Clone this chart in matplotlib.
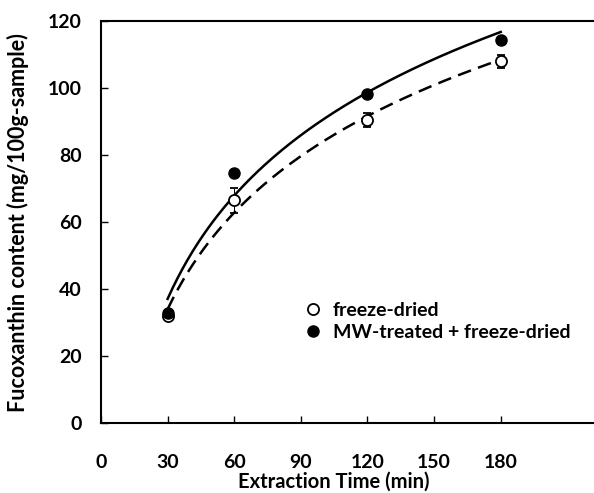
import matplotlib.pyplot as plt
import numpy as np

plt.rcParams['font.family'] = ['Lato', 'DejaVu Sans']
plt.rcParams['font.weight'] = 'bold'

time = np.array([30, 60, 120, 180])
freeze_dried = np.array([32.0, 66.5, 90.5, 108.0])
freeze_dried_err = np.array([1.0, 3.8, 2.0, 2.0])
mw_treated = np.array([33.0, 74.7, 98.3, 114.5])
mw_treated_err = np.array([1.0, 0.8, 0.8, 1.2])

fig = plt.figure(figsize=(5.94, 4.93), dpi=100)
ax = fig.add_axes([0.170, 0.142, 0.830, 0.815])

# log fits
xs = np.linspace(30, 180, 200)
k1, b1 = np.polyfit(np.log(time), mw_treated, 1)
k2, b2 = np.polyfit(np.log(time), freeze_dried, 1)
ax.plot(xs, k1 * np.log(xs) + b1, color='black', lw=1.8)
ax.plot(xs, k2 * np.log(xs) + b2, color='black', lw=1.8, ls=(0, (5.5, 3)))

ax.errorbar(time, freeze_dried, yerr=freeze_dried_err, fmt='o', ms=8, mfc='white',
            mec='black', mew=1.3, ecolor='black', elinewidth=0.7, capsize=3, capthick=0.7,
            label='freeze-dried', zorder=3)
ax.errorbar(time, mw_treated, yerr=mw_treated_err, fmt='o', ms=8, mfc='black',
            mec='black', ecolor='black', elinewidth=0.7, capsize=3, capthick=0.7,
            label='MW-treated + freeze-dried', zorder=3)

ax.set_xlim(0, 222)
ax.set_ylim(0, 120)
ax.set_xticks([0, 30, 60, 90, 120, 150, 180])
ax.set_yticks([0, 20, 40, 60, 80, 100, 120])
ax.tick_params(direction='in', length=5, width=1, labelsize=14)
ax.tick_params(axis='x', pad=22)
ax.tick_params(axis='y', pad=14)
ax.spines['right'].set_visible(False)
for s in ['left', 'bottom', 'top']:
    ax.spines[s].set_linewidth(1.5)

ax.set_xlabel('Extraction Time (min)', fontsize=14.5, fontweight='bold')
ax.xaxis.set_label_coords(0.472, -0.122)
ax.set_ylabel('Fucoxanthin content (mg/100g-sample)', fontsize=15.5, fontweight='bold')
ax.yaxis.set_label_coords(-0.145, 0.5)

handles, labels = ax.get_legend_handles_labels()
handles = [h[0] for h in handles]
ax.legend(handles, labels, loc='upper left', bbox_to_anchor=(0.371, 0.345), frameon=False,
          handletextpad=0.4, handlelength=1.2, labelspacing=0.25,
          prop={'weight': 'bold', 'size': 14})

fig.savefig('out.png', dpi=100)
